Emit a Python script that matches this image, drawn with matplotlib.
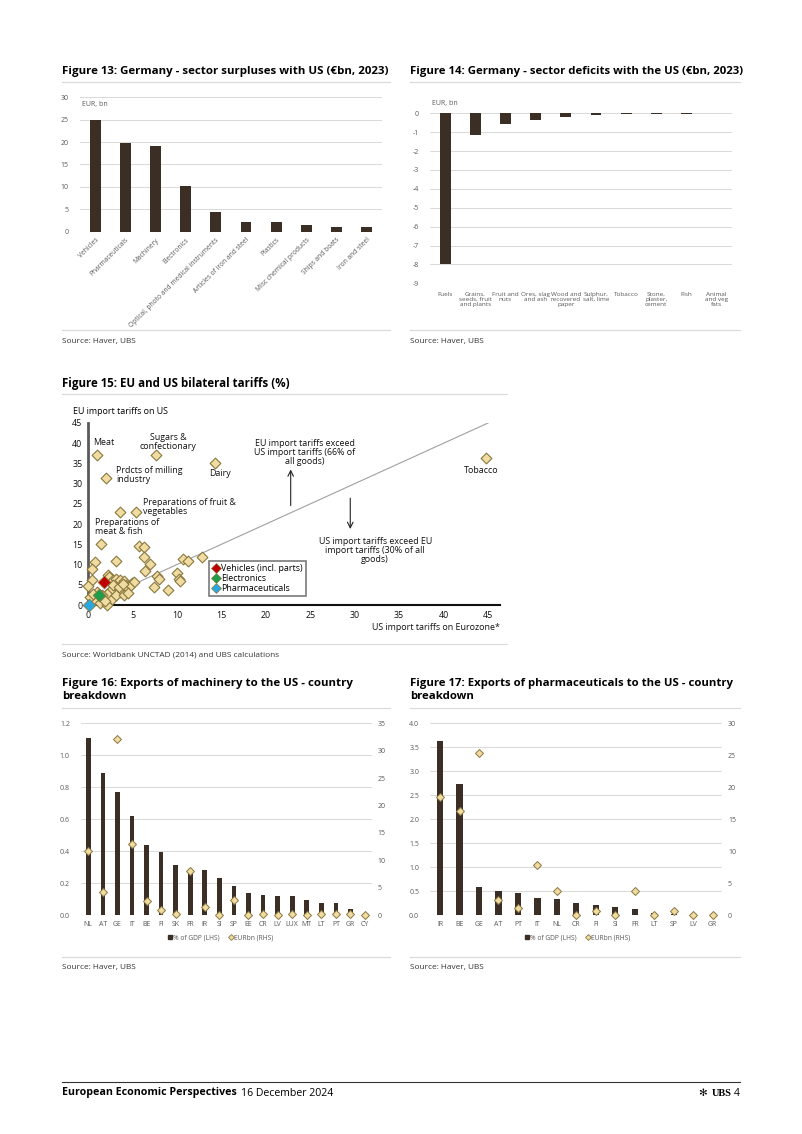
import matplotlib
matplotlib.use("Agg")
import matplotlib.pyplot as plt
import numpy as np
from matplotlib.lines import Line2D

plt.rcParams['font.family'] = ['Open Sans', 'DejaVu Sans']
plt.rcParams['axes.unicode_minus'] = False

# ---------------- data ----------------
surplus_sectors = ["Vehicles", "Pharmaceuticals", "Machinery", "Electronics",
                   "Optical, photo and medical instruments", "Articles of iron and steel",
                   "Plastics", "Misc chemical products", "Ships and boats", "Iron and steel"]
surplus_values = [25.0, 19.9, 19.1, 10.2, 4.3, 2.2, 2.1, 1.5, 1.1, 1.0]

deficit_sectors = ["Fuels", "Grains,\nseeds, fruit\nand plants", "Fruit and\nnuts", "Ores, slag\nand ash",
                   "Wood and\nrecovered\npaper", "Sulphur,\nsalt, lime", "Tobacco", "Stone,\nplaster,\ncement",
                   "Fish", "Animal\nand veg\nfats"]
deficit_values = [-7.98, -1.15, -0.55, -0.35, -0.22, -0.07, -0.05, -0.05, -0.03, -0.01]

# Figure 15: (US tariff on Eurozone, EU tariff on US)
tariff_us = [0.98, 7.7, 14.3, 2.0, 3.6, 5.4, 44.8, 1.5,
             0.8, 0.5, 0.5, 0.0, 3.2, 5.7, 6.3, 6.3, 7.0, 6.4, 7.8, 8.0, 7.4, 9.0,
             10.0, 10.2, 10.4, 10.7, 11.3, 12.8,
             2.2, 2.4, 2.85, 3.2, 3.6, 4.0, 4.3, 4.9, 5.2, 4.6, 4.2, 3.6, 3.0, 2.5,
             2.1, 1.6, 1.3, 0.7, 0.2, 1.3, 2.1, 2.7, 3.2, 4.0, 4.5, 2.8, 3.5, 1.0,
             0.6, 1.9, 3.9]
tariff_eu = [37.1, 37.0, 35.2, 31.3, 23.1, 23.0, 36.3, 15.0,
             10.7, 8.8, 6.2, 4.7, 10.9, 14.6, 14.4, 11.8, 10.1, 8.5, 7.2, 6.4, 4.4, 3.7,
             8.0, 6.4, 5.9, 11.3, 11.0, 11.8,
             7.4, 6.8, 6.2, 6.4, 6.2, 6.0, 5.0, 5.5, 5.6, 4.4, 3.7, 3.3, 4.4, 3.5,
             2.7, 2.5, 1.8, 1.2, 2.1, 0.4, 0.0, 1.4, 2.5, 2.5, 2.9, 5.0, 4.5, 3.2,
             2.6, 1.0, 5.2]
highlight_names = ["Vehicles (incl. parts)", "Electronics", "Pharmaceuticals"]
highlight_us = [1.76, 1.24, 0.1]
highlight_eu = [5.8, 2.5, 0.0]

machinery_countries = ["NL", "AT", "GE", "IT", "BE", "FI", "SK", "FR", "IR", "SI", "SP", "EE",
                       "CR", "LV", "LUX", "MT", "LT", "PT", "GR", "CY"]
machinery_gdp = [1.11, 0.89, 0.77, 0.62, 0.44, 0.396, 0.314, 0.288, 0.284, 0.23, 0.18, 0.137,
                 0.126, 0.122, 0.116, 0.095, 0.076, 0.076, 0.04, 0.002]
machinery_eur = [11.75, 4.16, 32.2, 13.0, 2.6, 1.0, 0.2, 8.07, 1.4, 0.06, 2.65, 0.05,
                 0.1, 0.05, 0.1, 0.05, 0.1, 0.2, 0.1, 0.0]

pharma_countries = ["IR", "BE", "GE", "AT", "PT", "IT", "NL", "CR", "FI", "SI", "FR", "LT",
                    "SP", "LV", "GR"]
pharma_gdp = [3.63, 2.73, 0.60, 0.51, 0.47, 0.36, 0.35, 0.26, 0.215, 0.17, 0.125, 0.04,
              0.03, 0.005, 0.003]
pharma_eur = [18.5, 16.25, 25.3, 2.43, 1.2, 7.8, 3.8, 0.1, 0.6, 0.1, 3.8, 0.0,
              0.6, 0.0, 0.0]

# ---------------- styling ----------------
BAR = '#3B2E25'
GRID = '#D9D9D9'
TICK = '#595959'
TAN = '#F0DBA0'
TAN_EDGE = '#8A7840'

W, H = 802, 1134
fig = plt.figure(figsize=(W / 100, H / 100), dpi=100)


def rect(x0, y0, x1, y1):
    return [x0 / W, 1 - y1 / H, (x1 - x0) / W, (y1 - y0) / H]


def ft(x, y, s, **kw):
    return fig.text(x / W, 1 - y / H, s, **kw)


def hline(x0, x1, y, color='#D9D9D9', lw=0.8):
    fig.add_artist(Line2D([x0 / W, x1 / W], [1 - y / H, 1 - y / H], color=color, lw=lw))


def fit(t, target):
    r = fig.canvas.get_renderer()
    w = t.get_window_extent(r).width
    t.set_fontsize(t.get_fontsize() * target / w)
    return t.get_fontsize()


def style_bar_ax(ax):
    for s in ax.spines.values():
        s.set_visible(False)
    ax.tick_params(length=0, labelsize=5, colors=TICK)
    ax.yaxis.grid(True, color=GRID, lw=0.7)
    ax.set_axisbelow(True)


# ---------------- titles / sources ----------------
t = ft(62, 71.7, "Figure 13: Germany - sector surpluses with US (€bn, 2023)", fontsize=8.5,
       fontweight='bold', va='center', ha='left')
fit(t, 323)
t = ft(410, 71.7, "Figure 14: Germany - sector deficits with the US (€bn, 2023)", fontsize=8.5,
       fontweight='bold', va='center', ha='left')
fit(t, 330)
t = ft(62, 384, "Figure 15: EU and US bilateral tariffs (%)", fontsize=8.5,
       fontweight='bold', va='center', ha='left')
fit(t, 226)
t = ft(62, 683.3, "Figure 16: Exports of machinery to the US - country", fontsize=8.5,
       fontweight='bold', va='center', ha='left')
fs16 = fit(t, 287)
ft(62, 696.7, "breakdown", fontsize=fs16, fontweight='bold', va='center', ha='left')
t = ft(410, 683.3, "Figure 17: Exports of pharmaceuticals to the US - country", fontsize=8.5,
       fontweight='bold', va='center', ha='left')
fs17 = fit(t, 321)
ft(410, 696.7, "breakdown", fontsize=fs17, fontweight='bold', va='center', ha='left')

hline(62, 390, 82)
hline(410, 740, 82)
hline(62, 507, 394)
hline(62, 390, 707.5)
hline(410, 740, 707.5)

hline(62, 390, 330)
hline(410, 740, 330)
hline(62, 507, 644)
hline(62, 390, 956.5)
hline(410, 740, 956.5)

t = ft(62, 341.5, "Source: Haver, UBS", fontsize=7, va='center', ha='left', color='#333333')
fs_src = fit(t, 74)
ft(410, 341.5, "Source: Haver, UBS", fontsize=fs_src, va='center', ha='left', color='#333333')
ft(62, 655, "Source: Worldbank UNCTAD (2014) and UBS calculations", fontsize=fs_src, va='center',
   ha='left', color='#333333')
ft(62, 967.5, "Source: Haver, UBS", fontsize=fs_src, va='center', ha='left', color='#333333')
ft(410, 967.5, "Source: Haver, UBS", fontsize=fs_src, va='center', ha='left', color='#333333')

# ---------------- Figure 13 ----------------
ax13 = fig.add_axes(rect(80, 97.3, 381.7, 231.7))
x13 = np.arange(len(surplus_sectors))
ax13.bar(x13, surplus_values, width=0.36, color=BAR)
ax13.set_xlim(-0.5, len(surplus_sectors) - 0.5)
ax13.set_ylim(0, 30)
ax13.set_yticks(range(0, 31, 5))
ax13.set_xticks(x13)
ax13.set_xticklabels(surplus_sectors, rotation=45, ha='right', rotation_mode='anchor')
style_bar_ax(ax13)
ax13.tick_params(axis='y', pad=8)
ax13.tick_params(axis='x', labelsize=4.8)
ax13.text(0.005, 0.945, "EUR, bn", transform=ax13.transAxes, fontsize=5, color=TICK, va='center')

# ---------------- Figure 14 ----------------
ax14 = fig.add_axes(rect(430, 113.3, 731.7, 283.3))
x14 = np.arange(len(deficit_sectors))
ax14.bar(x14, deficit_values, width=0.36, color=BAR)
ax14.set_xlim(-0.5, len(deficit_sectors) - 0.5)
ax14.set_ylim(-9, 0)
ax14.set_yticks(range(-9, 1))
ax14.set_xticks(x14)
ax14.set_xticklabels(deficit_sectors, linespacing=1.0)
style_bar_ax(ax14)
ax14.tick_params(axis='y', pad=8)
ax14.tick_params(axis='x', pad=6, labelsize=4.6)
ax14.text(0.005, 1.055, "EUR, bn", transform=ax14.transAxes, fontsize=5, color=TICK, va='center')

# ---------------- Figure 15 ----------------
xmax15 = 46.4
ax15 = fig.add_axes(rect(88, 423, 88 + xmax15 * 8.89, 605))
ax15.set_xlim(0, xmax15)
ax15.set_ylim(0, 45)
ax15.plot([0, 45], [0, 45], color='#A0A0A0', lw=0.8, zorder=1)
ax15.scatter(tariff_us, tariff_eu, marker='D', s=30, facecolor=TAN, edgecolor=TAN_EDGE,
             linewidth=0.8, zorder=3, clip_on=False)
hl_colors = ['#C00000', '#1E9E4A', '#2AA7DF']
handles = []
for name, hx, hy, c in zip(highlight_names, highlight_us, highlight_eu, hl_colors):
    ax15.scatter([hx], [hy], marker='D', s=42, facecolor=c, edgecolor=TAN_EDGE, linewidth=0.6,
                 zorder=4, clip_on=False)
    handles.append(Line2D([], [], marker='D', linestyle='none', markersize=5.5,
                          markerfacecolor=c, markeredgecolor=TAN_EDGE, markeredgewidth=0.5,
                          label=name))
for s in ['top', 'right']:
    ax15.spines[s].set_visible(False)
ax15.spines['left'].set_color('#595959')
ax15.spines['left'].set_linewidth(2.0)
ax15.spines['bottom'].set_color('#111111')
ax15.spines['bottom'].set_linewidth(1.5)
ax15.set_xticks(range(0, 46, 5))
ax15.set_yticks(range(0, 46, 5))
ax15.tick_params(length=0, pad=4, colors='#111111')

t = ft(73, 411, "EU import tariffs on US", fontsize=7, va='center', ha='left')
fs15 = fit(t, 96)
ax15.tick_params(labelsize=fs15)
ann = dict(fontsize=fs15, color='#111111', va='center', linespacing=1.0)
ax15.text(0.56, 40.1, "Meat", ha='left', **ann)
ax15.text(9.0, 40.3, "Sugars &\nconfectionary", ha='center', **ann)
ax15.text(3.2, 32.2, "Prdcts of milling\nindustry", ha='left', **ann)
ax15.text(13.6, 32.4, "Dairy", ha='left', **ann)
ax15.text(6.2, 24.3, "Preparations of fruit &\nvegetables", ha='left', **ann)
ax15.text(0.79, 19.3, "Preparations of\nmeat & fish", ha='left', **ann)
ax15.text(24.4, 37.7, "EU import tariffs exceed\nUS import tariffs (66% of\nall goods)", ha='center', **ann)
ax15.text(32.3, 13.4, "US import tariffs exceed EU\nimport tariffs (30% of all\ngoods)", ha='center', **ann)
ax15.text(44.2, 33.2, "Tobacco", ha='center', **ann)
ax15.annotate("", xy=(22.8, 34.2), xytext=(22.8, 23.9),
              arrowprops=dict(arrowstyle='->', color='#222222', lw=0.8))
ax15.annotate("", xy=(29.5, 18.1), xytext=(29.5, 27.1),
              arrowprops=dict(arrowstyle='->', color='#222222', lw=0.8))
ft(500, 628, "US import tariffs on Eurozone*", fontsize=fs15, va='center', ha='right', color='#111111')
leg = ax15.legend(handles=handles, loc='upper left',
                  bbox_to_anchor=((209 - 88) / (xmax15 * 8.89), (605 - 561) / 182),
                  frameon=True, fancybox=False, fontsize=fs15, handletextpad=0.1,
                  borderpad=0.3, labelspacing=0.15, handlelength=1.0, borderaxespad=0)
leg.get_frame().set_edgecolor('#595959')
leg.get_frame().set_linewidth(1.2)

# ---------------- Figure 16 / 17 ----------------
def dual_chart(box, cats, gdp, eur, lmax, lstep, rmax, rstep, lfmt, legx):
    ax = fig.add_axes(rect(*box))
    x = np.arange(len(cats))
    ax.bar(x, gdp, width=0.32, color=BAR, zorder=2)
    ax.set_xlim(-0.5, len(cats) - 0.5)
    ax.set_ylim(0, lmax)
    ax.set_yticks(np.arange(0, lmax + 1e-9, lstep))
    ax.set_yticklabels([lfmt.format(v) for v in np.arange(0, lmax + 1e-9, lstep)])
    ax.set_xticks(x)
    ax.set_xticklabels(cats)
    style_bar_ax(ax)
    ax.tick_params(axis='y', pad=8)
    ax.tick_params(axis='x', pad=4)
    ax2 = ax.twinx()
    ax2.set_ylim(0, rmax)
    ax2.set_yticks(np.arange(0, rmax + 1e-9, rstep))
    ax2.set_yticklabels([str(int(v)) for v in np.arange(0, rmax + 1e-9, rstep)])
    for s in ax2.spines.values():
        s.set_visible(False)
    ax2.tick_params(length=0, labelsize=5, colors=TICK, pad=4)
    ax2.plot(x, eur, linestyle='none', marker='D', markersize=4, markerfacecolor=TAN,
             markeredgecolor=TAN_EDGE, markeredgewidth=0.7, zorder=3, clip_on=False)
    h = [Line2D([], [], marker='s', linestyle='none', markersize=3, color=BAR, label='% of GDP (LHS)'),
         Line2D([], [], marker='D', linestyle='none', markersize=3, markerfacecolor=TAN,
                markeredgecolor=TAN_EDGE, markeredgewidth=0.6, label='EURbn (RHS)')]
    fig.legend(handles=h, loc='center', bbox_to_anchor=(legx / W, 1 - 938.3 / H), ncol=2,
               frameon=False, fontsize=4.8, handletextpad=0.0, columnspacing=1.2,
               handlelength=1.0, labelcolor=TICK)
    return ax, ax2


dual_chart((81, 723.3, 372.3, 915), machinery_countries, machinery_gdp, machinery_eur,
           1.2, 0.2, 35, 5, "{:.1f}", 220)
dual_chart((430.3, 723.3, 722.4, 915.3), pharma_countries, pharma_gdp, pharma_eur,
           4.0, 0.5, 30, 5, "{:.1f}", 577)

# ---------------- footer ----------------
hline(62, 740, 1082, color='#333333', lw=0.8)
t = ft(62, 1093, "European Economic Perspectives", fontsize=7.5, fontweight='bold', va='center', ha='left')
fit(t, 173)
t = ft(241, 1093, "16 December 2024", fontsize=7.5, va='center', ha='left')
fit(t, 92)
ft(712, 1093, "UBS", fontsize=7.5, fontweight='bold', va='center', ha='left', family='Liberation Serif')
ft(703, 1093, "✻", fontsize=7.5, va='center', ha='center', family='DejaVu Sans')
ft(740, 1093, "4", fontsize=7.5, va='center', ha='right')

fig.savefig("out.png", dpi=100)
